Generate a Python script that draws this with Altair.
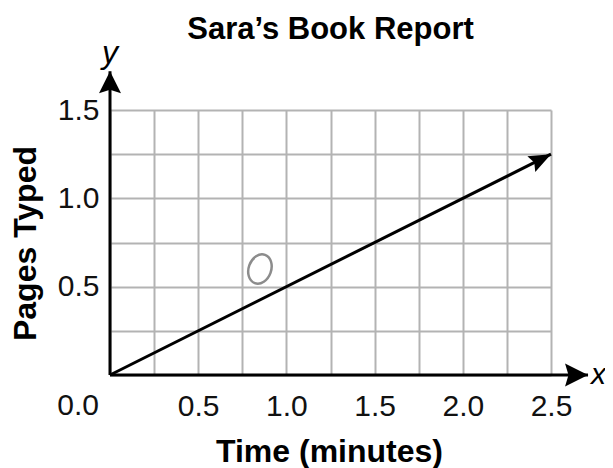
import math
import altair as alt
import pandas as pd

# ---- text ----
chart_title = "Sara’s Book Report"
x_title = "Time (minutes)"
y_title = "Pages Typed"
x_letter = "x"
y_letter = "y"
origin_label = "0.0"

# ---- data ----
line_time = [0.0, 2.5]
line_pages = [0.0, 1.25]

mark_time = [0.85]
mark_pages = [0.6]
mark_text = ["O"]

x_grid_values = [0.0, 0.25, 0.5, 0.75, 1.0, 1.25, 1.5, 1.75, 2.0, 2.25, 2.5]
y_grid_values = [0.0, 0.25, 0.5, 0.75, 1.0, 1.25, 1.5]
x_domain = [0.0, 2.5]
y_domain = [0.0, 1.5]
x_axis_end = [2.71]
y_axis_end = [1.72]

FONT = "Liberation Sans, Arial, Helvetica, sans-serif"
GRID = "#b3b3b3"

line_df = pd.DataFrame({"time": line_time, "pages": line_pages})
head_df = line_df.tail(1)
xaxis_df = pd.DataFrame({"time": [0.0], "time2": x_axis_end, "pages": [0.0]})
yaxis_df = pd.DataFrame({"time": [0.0], "pages": [0.0], "pages2": y_axis_end})
xhead_df = pd.DataFrame({"time": x_axis_end, "pages": [0.0], "label": [x_letter]})
yhead_df = pd.DataFrame({"time": [0.0], "pages": y_axis_end, "label": [y_letter]})
origin_df = pd.DataFrame({"time": [0.0], "pages": [0.0], "label": [origin_label]})
mark_df = pd.DataFrame({"time": mark_time, "pages": mark_pages, "label": mark_text})

xs = alt.Scale(domain=x_domain, nice=False, zero=False)
ys = alt.Scale(domain=y_domain, nice=False, zero=False)

lab_expr = "datum.value >= 0.5 && (datum.value * 2) % 1 == 0 ? format(datum.value, '.1f') : ''"

x_axis = alt.Axis(
    values=x_grid_values, labelExpr=lab_expr, title=x_title,
    domain=False, ticks=False, grid=True, gridColor=GRID, gridWidth=2,
    labelFont=FONT, labelFontSize=30, labelColor="#111", labelPadding=16,
    labelFlush=False, labelOverlap=False,
    titleFont=FONT, titleFontSize=32, titleFontWeight="bold", titleColor="#000",
    titleX=219, titleY=86, titleAlign="center", titleBaseline="alphabetic",
)
y_axis = alt.Axis(
    values=y_grid_values, labelExpr=lab_expr, title=y_title,
    domain=False, ticks=False, grid=True, gridColor=GRID, gridWidth=2,
    labelFont=FONT, labelFontSize=30, labelColor="#111", labelPadding=11,
    labelFlush=False, labelOverlap=False, labelBaseline="middle",
    titleFont=FONT, titleFontSize=32, titleFontWeight="bold", titleColor="#000",
    titleAngle=270, titleX=-75, titleY=133, titleAlign="center",
    titleBaseline="alphabetic",
)


def X():
    return alt.X("time:Q", scale=xs, axis=x_axis)


def Y():
    return alt.Y("pages:Q", scale=ys, axis=y_axis)


line = alt.Chart(line_df).mark_line(color="black", strokeWidth=3).encode(x=X(), y=Y())

# arrowheads (tip at the symbol origin, pointing +x)
head_path = "M0,0 L-2,-0.8 L-1.7,0 L-2,0.8 Z"
axis_head_path = "M0,0 L-2,-1 L-1.7,0 L-2,1 Z"
slope_angle = math.degrees(math.atan2(line_pages[1] - line_pages[0], line_time[1] - line_time[0]))

line_head = alt.Chart(head_df).mark_point(
    shape=head_path, size=484, filled=True, color="black", opacity=1,
    strokeWidth=0, angle=360 - slope_angle,
).encode(x=X(), y=Y())

xaxis_line = alt.Chart(xaxis_df).mark_rule(color="black", strokeWidth=3).encode(
    x=X(), x2="time2:Q", y=Y())
yaxis_line = alt.Chart(yaxis_df).mark_rule(color="black", strokeWidth=3).encode(
    x=X(), y=Y(), y2="pages2:Q")

xaxis_head = alt.Chart(xhead_df).mark_point(
    shape=axis_head_path, size=529, filled=True, color="black", opacity=1,
    strokeWidth=0, angle=0).encode(x=X(), y=Y())
yaxis_head = alt.Chart(yhead_df).mark_point(
    shape=axis_head_path, size=484, filled=True, color="black", opacity=1,
    strokeWidth=0, angle=270).encode(x=X(), y=Y())

x_lab = alt.Chart(xhead_df).mark_text(
    font=FONT, fontSize=30, fontStyle="italic", color="#000",
    align="left", baseline="middle", dx=3).encode(x=X(), y=Y(), text="label:N")
y_lab = alt.Chart(yhead_df).mark_text(
    font=FONT, fontSize=32, fontStyle="italic", color="#000",
    align="center", baseline="alphabetic", dy=-8).encode(x=X(), y=Y(), text="label:N")
origin_lab = alt.Chart(origin_df).mark_text(
    font=FONT, fontSize=30, color="#111",
    align="right", baseline="alphabetic", dx=-11, dy=40).encode(x=X(), y=Y(), text="label:N")

o_path = "M0,-1 A0.75,1 0 1,1 0,1 A0.75,1 0 1,1 0,-1 Z"
o_mark = alt.Chart(mark_df).mark_point(
    shape=o_path, size=900, filled=False, color="#8c8c8c", opacity=1,
    strokeWidth=2.5, angle=20).encode(x=X(), y=Y())

chart = alt.layer(
    line, line_head, xaxis_line, yaxis_line, xaxis_head, yaxis_head,
    x_lab, y_lab, origin_lab, o_mark,
).properties(
    width=441, height=265,
    padding={"left": 102, "top": 102, "right": 54, "bottom": 93},
    autosize=alt.AutoSizeParams(type="none"),
    title=alt.Title(chart_title, font=FONT, fontSize=31, fontWeight="bold",
                    color="#000", anchor="middle", frame="group",
                    baseline="alphabetic", offset=-33),
    background="white",
).configure_view(stroke=None)

chart.save("out.html", embed_options={"renderer": "svg", "actions": False})
